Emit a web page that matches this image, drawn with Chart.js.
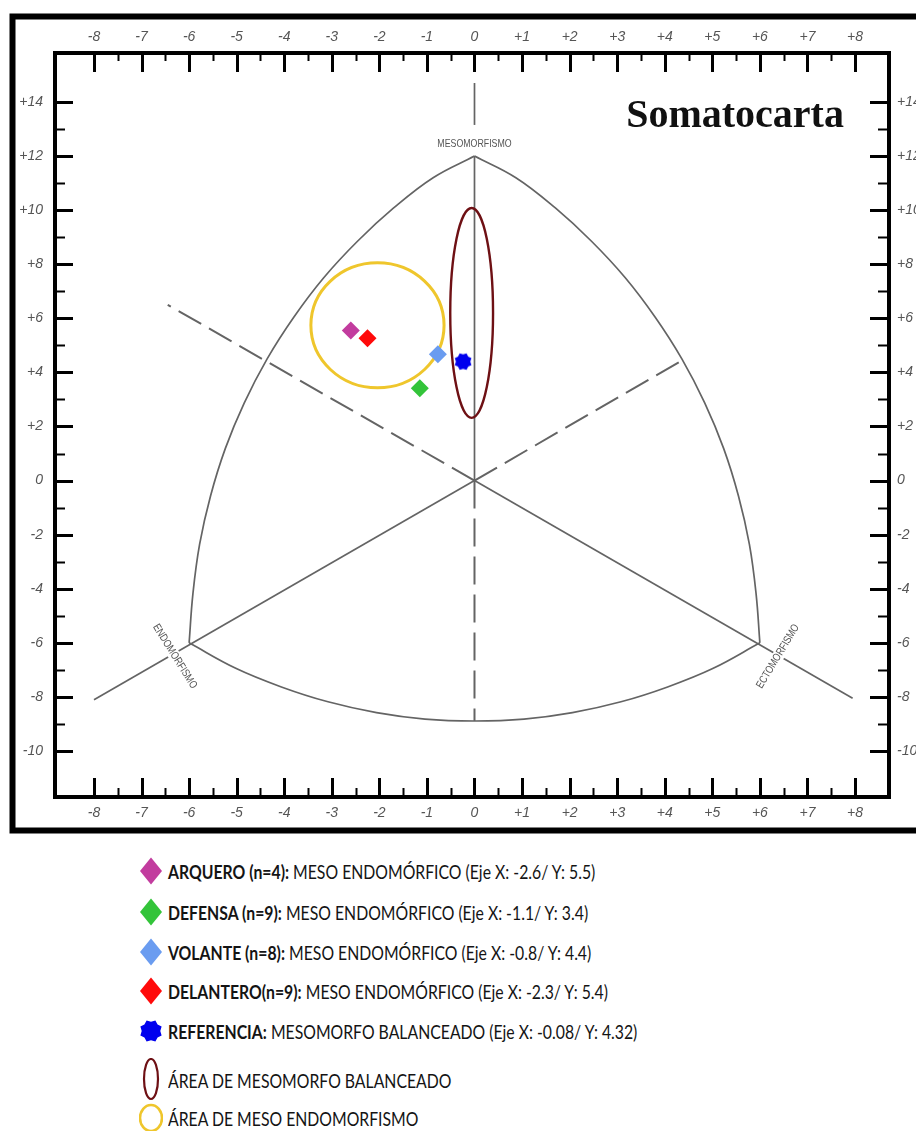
<!DOCTYPE html>
<html>
<head>
<meta charset="utf-8">
<script src="https://cdn.jsdelivr.net/npm/chart.js@4.4.1/dist/chart.umd.min.js"></script>
<style>
  html, body { margin: 0; padding: 0; background: #fff; width: 916px; height: 1131px; overflow: hidden; position: relative; }
  #wrap { position: absolute; left: 0; top: 0; width: 916px; height: 845px; }
  .row { position: absolute; left: 139px; display: flex; align-items: center; white-space: nowrap;
         font-family: Lato, "Open Sans", sans-serif; font-size: 19.5px; color: #141414; }
  .row svg { flex: none; margin-right: 5px; }
  .row span { display: inline-block; transform: scaleX(0.81); transform-origin: left center; }
  .row b { font-weight: 700; }
</style>
</head>
<body>
<div id="wrap"><canvas id="c"></canvas></div>
<div id="legend"></div>
<script>
// ---------------- data ----------------
const X_TICKS  = [-8, -7, -6, -5, -4, -3, -2, -1, 0, 1, 2, 3, 4, 5, 6, 7, 8];
const X_LABELS = ["-8", "-7", "-6", "-5", "-4", "-3", "-2", "-1", "0", "+1", "+2", "+3", "+4", "+5", "+6", "+7", "+8"];
const X_MINOR  = [-7.5, -6.5, -5.5, -4.5, -3.5, -2.5, -1.5, -0.5, 0.5, 1.5, 2.5, 3.5, 4.5, 5.5, 6.5, 7.5];
const Y_TICKS  = [-10, -8, -6, -4, -2, 0, 2, 4, 6, 8, 10, 12, 14];
const Y_LABELS = ["-10", "-8", "-6", "-4", "-2", "0", "+2", "+4", "+6", "+8", "+10", "+12", "+14"];
const Y_MINOR  = [-9, -7, -5, -3, -1, 1, 3, 5, 7, 9, 11, 13];

// groups plotted on the chart (positions)
const GROUPS  = ["ARQUERO", "DEFENSA", "VOLANTE", "DELANTERO", "REFERENCIA"];
const GROUP_X = [-2.6, -1.15, -0.77, -2.25, -0.24];
const GROUP_Y = [5.55, 3.41, 4.67, 5.26, 4.40];

// areas (ellipses): centre and half axes in chart units
const AREAS   = ["ÁREA DE MESOMORFO BALANCEADO", "ÁREA DE MESO ENDOMORFISMO"];
const AREA_CX = [-0.06, -2.04];
const AREA_CY = [6.20, 5.74];
const AREA_RX = [0.45, 1.40];
const AREA_RY = [3.88, 2.31];

// somatochart template, points
const LEFT_ARC   = [[-6, -6], [-5.92, -4.18], [-5.78, -2.36], [-5.55, -0.57], [-5.24, 1.18], [-4.84, 2.87],
                    [-4.36, 4.50], [-3.80, 6.04], [-3.17, 7.50], [-2.46, 8.85], [-1.70, 10.08], [-0.87, 11.2], [0, 12]];
const RIGHT_ARC  = [[0, 12], [0.87, 11.2], [1.70, 10.08], [2.46, 8.85], [3.17, 7.50], [3.80, 6.04], [4.36, 4.50],
                    [4.84, 2.87], [5.24, 1.18], [5.55, -0.57], [5.78, -2.36], [5.92, -4.18], [6, -6]];
const BOTTOM_ARC = [[-6, -6], [-5.02, -6.94], [-4.06, -7.63], [-3.08, -8.18], [-2.06, -8.58], [-1.04, -8.82], [0, -8.89],
                    [1.04, -8.82], [2.06, -8.58], [3.08, -8.18], [4.06, -7.63], [5.02, -6.94], [6, -6]];
const MESO_AXIS  = [[0, 0], [0, 12]];
const MESO_TOP   = [[0, 13.15], [0, 14.7]];
const ENDO_AXIS  = [[0, 0], [-8, -8.1]];
const ECTO_AXIS  = [[0, 0], [7.95, -8.05]];
const DASH_LEFT  = [[0, 0], [-6.45, 6.5]];
const DASH_RIGHT = [[0, 0], [4.35, 4.43]];
const DASH_DOWN  = [[0, 0], [0, -8.89]];

const AXIS_NAMES = ["MESOMORFISMO", "ENDOMORFISMO", "ECTOMORFISMO"];
const TITLE = "Somatocarta";

const LEGEND_BOLD = ["ARQUERO (n=4):", "DEFENSA (n=9):", "VOLANTE (n=8):", "DELANTERO(n=9):", "REFERENCIA:"];
const LEGEND_TEXT = [" MESO ENDOMÓRFICO (Eje X: -2.6/ Y: 5.5)",
                     " MESO ENDOMÓRFICO (Eje X: -1.1/ Y: 3.4)",
                     " MESO ENDOMÓRFICO (Eje X: -0.8/ Y: 4.4)",
                     " MESO ENDOMÓRFICO (Eje X: -2.3/ Y: 5.4)",
                     " MESOMORFO BALANCEADO (Eje X: -0.08/ Y: 4.32)"];

// ---------------- styles / layout ----------------
const GROUP_COLORS = ["#c23c9e", "#33c43a", "#6a9cf0", "#ff0a0a", "#0000ee"];
const AREA_COLORS  = ["#6e1014", "#efc62c"];
const LINE_COLOR = "#646464";
const LABEL_POS = [[0, 12.45, 0], [-6.3, -6.5, 58], [6.38, -6.5, -59]];
const TITLE_POS = [3.19, 13.08];
const ROW_TOPS = [857, 898, 938, 977, 1018, 1058, 1103];

const pts = a => a.map(p => ({ x: p[0], y: p[1] }));

function starCanvas(r, color) {
  const c = document.createElement("canvas");
  c.width = c.height = 2 * r + 2;
  const g = c.getContext("2d");
  g.fillStyle = color;
  g.translate(r + 1, r + 1);
  g.beginPath();
  for (let k = 0; k < 16; k++) {
    const a = k * Math.PI / 8 + Math.PI / 8;
    const rr = k % 2 ? r * 0.8 : r;
    g.lineTo(rr * Math.cos(a), rr * Math.sin(a));
  }
  g.closePath();
  g.fill();
  return c;
}
const STAR = starCanvas(9, GROUP_COLORS[4]);

// ---------------- plugin: frame, ticks, ellipses, labels ----------------
const somato = {
  id: "somato",
  beforeDraw(chart) {
    const ctx = chart.ctx;
    ctx.save();
    ctx.strokeStyle = "#000";
    ctx.lineWidth = 6;
    ctx.strokeRect(12.5, 16.5, 1000, 814);
    ctx.restore();
  },
  beforeDatasetsDraw() { this._ellDone = false; },
  beforeDatasetDraw(chart, args) {
    if (this._ellDone || !chart.data.datasets[args.index].marker) return;
    this._ellDone = true;
    const ctx = chart.ctx, xs = chart.scales.x, ys = chart.scales.y;
    ctx.save();
    AREAS.forEach((a, i) => {
      const cx = xs.getPixelForValue(AREA_CX[i]);
      const cy = ys.getPixelForValue(AREA_CY[i]);
      const rx = Math.abs(xs.getPixelForValue(AREA_CX[i] + AREA_RX[i]) - cx);
      const ry = Math.abs(ys.getPixelForValue(AREA_CY[i] + AREA_RY[i]) - cy);
      ctx.beginPath();
      ctx.ellipse(cx, cy, rx, ry, 0, 0, Math.PI * 2);
      ctx.strokeStyle = AREA_COLORS[i];
      ctx.lineWidth = i === 0 ? 2.4 : 3;
      ctx.stroke();
    });
    ctx.restore();
  },
  afterDatasetsDraw(chart) {
    const ctx = chart.ctx, xs = chart.scales.x, ys = chart.scales.y;
    ctx.save();
    AXIS_NAMES.forEach((t, i) => {
      const [vx, vy, rot] = LABEL_POS[i];
      ctx.save();
      ctx.translate(xs.getPixelForValue(vx), ys.getPixelForValue(vy));
      ctx.rotate(rot * Math.PI / 180);
      ctx.scale(0.8, 1);
      ctx.font = '11px "Liberation Sans"';
      const w = ctx.measureText(t).width;
      ctx.fillStyle = "#fff";
      ctx.fillRect(-w / 2 - 2, -6, w + 4, 12);
      ctx.fillStyle = "#555";
      ctx.textAlign = "center";
      ctx.textBaseline = "middle";
      ctx.fillText(t, 0, 0);
      ctx.restore();
    });
    ctx.font = 'bold 40px "Liberation Serif"';
    ctx.fillStyle = "#111";
    ctx.textAlign = "left";
    ctx.textBaseline = "alphabetic";
    ctx.fillText(TITLE, xs.getPixelForValue(TITLE_POS[0]), ys.getPixelForValue(TITLE_POS[1]));
    ctx.restore();
  },
  afterDraw(chart) {
    const ctx = chart.ctx, a = chart.chartArea, xs = chart.scales.x, ys = chart.scales.y;
    ctx.save();
    ctx.strokeStyle = "#000";
    const tick = (x1, y1, x2, y2, w) => {
      ctx.lineWidth = w;
      ctx.beginPath(); ctx.moveTo(x1, y1); ctx.lineTo(x2, y2); ctx.stroke();
    };
    X_TICKS.forEach(v => {
      const p = Math.round(xs.getPixelForValue(v)) + 0.5;
      tick(p, a.top, p, a.top + 19, 3);
      tick(p, a.bottom, p, a.bottom - 19, 3);
    });
    X_MINOR.forEach(v => {
      const p = Math.round(xs.getPixelForValue(v)) + 0.5;
      tick(p, a.top, p, a.top + 8, 2);
      tick(p, a.bottom, p, a.bottom - 9, 2);
    });
    Y_TICKS.forEach(v => {
      const p = Math.round(ys.getPixelForValue(v)) + 0.5;
      tick(a.left, p, a.left + 18, p, 3);
      tick(a.right, p, a.right - 19, p, 3);
    });
    Y_MINOR.forEach(v => {
      const p = Math.round(ys.getPixelForValue(v)) + 0.5;
      tick(a.left, p, a.left + 10, p, 2);
      tick(a.right, p, a.right - 11, p, 2);
    });
    ctx.lineWidth = 4;
    ctx.strokeRect(a.left, a.top, a.right - a.left, a.bottom - a.top);
    ctx.restore();
  }
};

// ---------------- chart ----------------
const tickFont = { family: "Liberation Sans", style: "italic", size: 14 };
function axis(pos, min, max, ticks, labels, pad, fit) {
  return {
    type: "linear", position: pos, min, max,
    afterBuildTicks: s => { s.ticks = ticks.map(v => ({ value: v })); },
    afterFit: fit,
    grid: { display: false, drawTicks: false },
    border: { display: false },
    ticks: { autoSkip: false, maxRotation: 0, padding: pad, font: tickFont, color: "#555",
             callback: (v, i) => labels[i] }
  };
}
const X_MIN = -8.82, X_MAX = 8.715, Y_MIN = -11.7, Y_MAX = 15.81;

const lineSet = (data, extra) => Object.assign({
  data: pts(data), showLine: true, pointRadius: 0, borderColor: LINE_COLOR,
  borderWidth: 1.7, fill: false, order: 5
}, extra || {});

new Chart(document.getElementById("c"), {
  type: "scatter",
  data: {
    datasets: [
      {
        label: "Grupos", marker: true, order: 1,
        data: GROUPS.map((g, i) => ({ x: GROUP_X[i], y: GROUP_Y[i] })),
        pointStyle: ["rectRot", "rectRot", "rectRot", "rectRot", STAR],
        pointRadius: 9, pointBorderWidth: 0,
        pointBackgroundColor: GROUP_COLORS, pointBorderColor: GROUP_COLORS
      },
      lineSet(LEFT_ARC, { tension: 0.4 }),
      lineSet(RIGHT_ARC, { tension: 0.4 }),
      lineSet(BOTTOM_ARC, { tension: 0.4 }),
      lineSet(MESO_AXIS),
      lineSet(MESO_TOP),
      lineSet(ENDO_AXIS),
      lineSet(ECTO_AXIS),
      lineSet(DASH_LEFT, { borderDash: [26, 9], borderWidth: 2 }),
      lineSet(DASH_RIGHT, { borderDash: [26, 9], borderWidth: 2 }),
      lineSet(DASH_DOWN, { borderDash: [28, 10], borderWidth: 2 })
    ]
  },
  options: {
    responsive: true,
    maintainAspectRatio: false,
    animation: false,
    layout: { padding: 0 },
    plugins: { legend: { display: false }, tooltip: { enabled: false } },
    scales: {
      x:  axis("bottom", X_MIN, X_MAX, X_TICKS, X_LABELS, 8,  s => { s.height = 48; }),
      x2: axis("top",    X_MIN, X_MAX, X_TICKS, X_LABELS, 7,  s => { s.height = 53; }),
      y:  axis("left",   Y_MIN, Y_MAX, Y_TICKS, Y_LABELS, 12, s => { s.width = 55; }),
      y2: axis("right",  Y_MIN, Y_MAX, Y_TICKS, Y_LABELS, 8,  s => { s.width = 27; })
    }
  },
  plugins: [somato]
});

// ---------------- legend (html) ----------------
function diamondIcon(c) {
  return `<svg width="24" height="28"><polygon points="12,0.5 23,14 12,27.5 1,14" fill="${c}"/></svg>`;
}
function starIcon(c) {
  let p = [];
  for (let k = 0; k < 16; k++) {
    const a = k * Math.PI / 8 + Math.PI / 8, r = k % 2 ? 9.3 : 11.5;
    p.push((12 + r * Math.cos(a)).toFixed(2) + "," + (13 + r * Math.sin(a)).toFixed(2));
  }
  return `<svg width="24" height="26"><polygon points="${p.join(" ")}" fill="${c}"/></svg>`;
}
const leg = document.getElementById("legend");
let html = "";
GROUPS.forEach((g, i) => {
  const icon = i === 4 ? starIcon(GROUP_COLORS[i]) : diamondIcon(GROUP_COLORS[i]);
  html += `<div class="row" style="top:${ROW_TOPS[i]}px">${icon}<span><b>${LEGEND_BOLD[i]}</b>${LEGEND_TEXT[i]}</span></div>`;
});
html += `<div class="row" style="top:${ROW_TOPS[5]}px"><svg width="24" height="44"><ellipse cx="12" cy="21" rx="7" ry="20" fill="none" stroke="${AREA_COLORS[0]}" stroke-width="2.2"/></svg><span>${AREAS[0]}</span></div>`;
html += `<div class="row" style="top:${ROW_TOPS[6]}px"><svg width="24" height="30"><ellipse cx="12" cy="15" rx="11" ry="13" fill="none" stroke="${AREA_COLORS[1]}" stroke-width="2.6"/></svg><span>${AREAS[1]}</span></div>`;
leg.innerHTML = html;
</script>
</body>
</html>
